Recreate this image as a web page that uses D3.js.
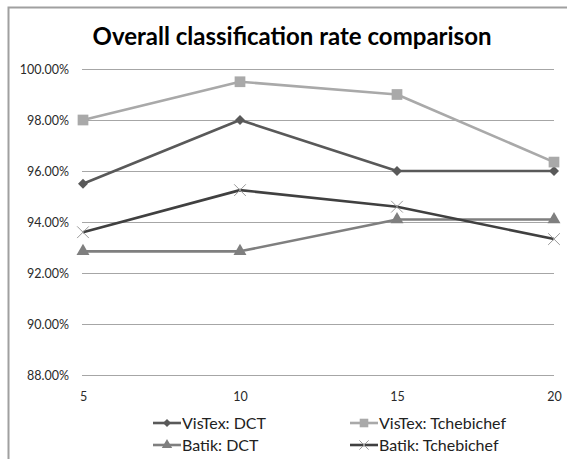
<!DOCTYPE html>
<html>
<head>
<meta charset="utf-8">
<script src="https://cdn.jsdelivr.net/npm/d3@7"></script>
<style>
  body { margin: 0; background: #fff; }
  svg { display: block; font-family: Lato, "Open Sans", sans-serif; }
</style>
</head>
<body>
<svg id="chart" width="567" height="459"></svg>
<script>
// Block sizes (x axis) and classification rates (%) for each method
const blockSizes = [5, 10, 15, 20];
const vistexDCT = [95.5, 98.0, 96.0, 96.0];
const vistexTcheb = [98.0, 99.5, 99.0, 96.35];
const batikDCT = [92.85, 92.85, 94.1, 94.1];
const batikTcheb = [93.6, 95.25, 94.6, 93.33];
const yTicks = [88, 90, 92, 94, 96, 98, 100];
const seriesNames = ["VisTex: DCT", "VisTex: Tchebichef", "Batik: DCT", "Batik: Tchebichef"];

const series = [
  { name: seriesNames[0], values: vistexDCT, line: "#595959", marker: "diamond", fill: "#595959" },
  { name: seriesNames[1], values: vistexTcheb, line: "#a9a9a9", marker: "square", fill: "#a9a9a9" },
  { name: seriesNames[2], values: batikDCT, line: "#7f7f7f", marker: "triangle", fill: "#7f7f7f" },
  { name: seriesNames[3], values: batikTcheb, line: "#404040", marker: "cross", fill: "#9a9a9a" }
];

const svg = d3.select("#chart");

// outer chart frame (top and left edges)
svg.append("path")
  .attr("d", "M8.5,459 V7.5 H567")
  .attr("fill", "none").attr("stroke", "#a0a0a0").attr("stroke-width", 2);

svg.append("text")
  .attr("x", 292).attr("y", 45)
  .attr("text-anchor", "middle")
  .attr("font-size", 24).attr("font-weight", "bold")
  .attr("fill", "#000")
  .text("Overall classification rate comparison");

const x = d3.scalePoint().domain(blockSizes).range([83, 554]);
const y = d3.scaleLinear().domain([88, 100]).range([375, 69]);

// horizontal gridlines
svg.append("g").selectAll("line").data(yTicks).join("line")
  .attr("x1", 82).attr("x2", 554)
  .attr("y1", d => Math.round(y(d)) + 0.5).attr("y2", d => Math.round(y(d)) + 0.5)
  .attr("stroke", "#a6a6a6").attr("stroke-width", 1);

const yAxis = svg.append("g").attr("transform", "translate(82,0)")
  .call(d3.axisLeft(y).tickValues(yTicks).tickSize(0).tickPadding(13)
    .tickFormat(d => d.toFixed(2) + "%"));
yAxis.select(".domain").remove();
yAxis.selectAll("text").attr("font-size", 12.5).attr("fill", "#2a2a2a").attr("font-family", "Lato, sans-serif");

const xAxis = svg.append("g").attr("transform", "translate(0,384)")
  .call(d3.axisBottom(x).tickSize(0).tickPadding(8));
xAxis.select(".domain").remove();
xAxis.selectAll("text").attr("font-size", 12.5).attr("fill", "#2a2a2a").attr("font-family", "Lato, sans-serif");

function drawMarker(g, type, fill, size) {
  if (type === "diamond") {
    g.append("path").attr("d", d3.symbol(d3.symbolDiamond2, size * 4.6)()).attr("fill", fill);
  } else if (type === "square") {
    g.append("path").attr("d", d3.symbol(d3.symbolSquare, size * 8.2)()).attr("fill", fill);
  } else if (type === "triangle") {
    g.append("path").attr("d", d3.symbol(d3.symbolTriangle, size * 5.2)()).attr("fill", fill);
  } else {
    g.append("path").attr("d", d3.symbol(d3.symbolTimes, size * 6.5)()).attr("fill", "none")
      .attr("stroke", fill).attr("stroke-width", 1);
  }
}

const lineGen = d3.line().x((d, i) => x(blockSizes[i])).y(d => y(d));

series.forEach(s => {
  const g = svg.append("g");
  g.append("path").datum(s.values)
    .attr("d", lineGen)
    .attr("fill", "none").attr("stroke", s.line).attr("stroke-width", 2.6)
    .attr("stroke-linejoin", "round");
  s.values.forEach((v, i) => {
    const m = g.append("g").attr("transform", `translate(${x(blockSizes[i])},${y(v)})`);
    drawMarker(m, s.marker, s.fill, 14);
  });
});

// legend
const legendPos = [[153, 423], [350, 423], [153, 445], [350, 445]];
series.forEach((s, i) => {
  const [lx, ly] = legendPos[i];
  const g = svg.append("g").attr("transform", `translate(${lx},${ly})`);
  g.append("line").attr("x1", 0).attr("x2", 28).attr("y1", 0).attr("y2", 0)
    .attr("stroke", s.line).attr("stroke-width", 2.6);
  const m = g.append("g").attr("transform", "translate(14,0)");
  drawMarker(m, s.marker, s.fill, 9);
  g.append("text").attr("x", 29).attr("y", 0).attr("dy", "0.35em")
    .attr("font-size", 16).attr("fill", "#222")
    .text(s.name);
});
</script>
</body>
</html>
